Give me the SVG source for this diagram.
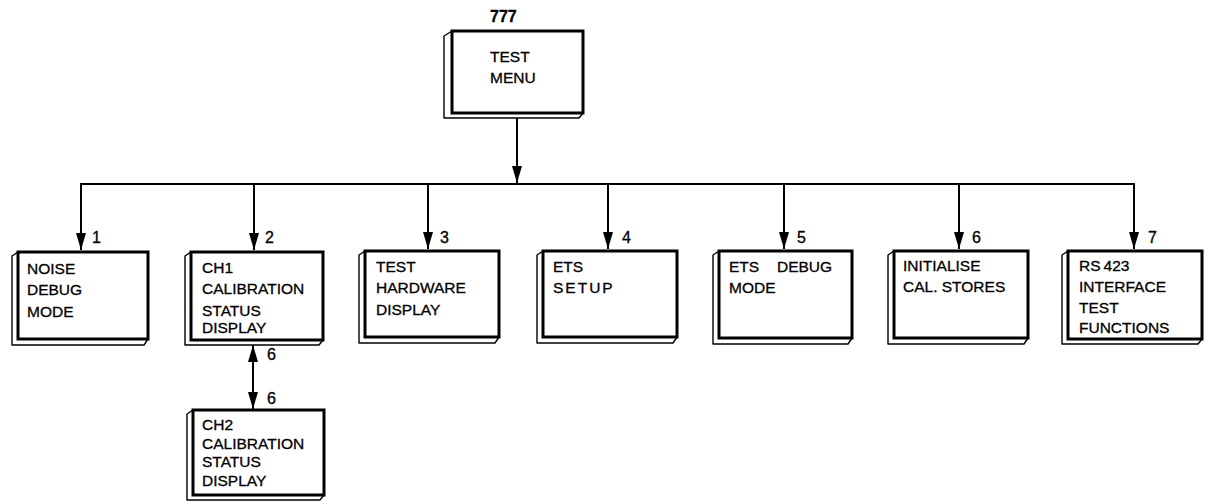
<svg xmlns="http://www.w3.org/2000/svg" width="1205" height="501" viewBox="0 0 1205 501">
<style>
.face{fill:#fff;stroke:#000;stroke-width:3}
.bev{fill:#fff;stroke:#000;stroke-width:1.4;stroke-linejoin:round}
.t{font-family:"Liberation Sans",Arial,sans-serif;font-size:15.5px;fill:#000;stroke:#000;stroke-width:0.3}
.n{font-family:"Liberation Sans",Arial,sans-serif;font-size:16px;fill:#000;stroke:#000;stroke-width:0.3}
.c{stroke:#000;stroke-width:2;fill:none}
</style>
<defs>
<marker id="ah" markerUnits="userSpaceOnUse" markerWidth="18" markerHeight="11" refX="17" refY="5" orient="auto-start-reverse">
<path d="M0,0 L17,5 L0,10 z" fill="#000"/>
</marker>
</defs>
<rect width="1205" height="501" fill="#fff"/>

<g id="connectors">
<line class="c" x1="517" y1="118" x2="517" y2="183" marker-end="url(#ah)"/>
<line class="c" x1="80" y1="184" x2="1135" y2="184"/>
<line class="c" x1="81" y1="184" x2="81" y2="250" marker-end="url(#ah)"/>
<line class="c" x1="254" y1="184" x2="254" y2="250" marker-end="url(#ah)"/>
<line class="c" x1="428" y1="184" x2="428" y2="249" marker-end="url(#ah)"/>
<line class="c" x1="608" y1="184" x2="608" y2="249" marker-end="url(#ah)"/>
<line class="c" x1="784" y1="184" x2="784" y2="249" marker-end="url(#ah)"/>
<line class="c" x1="959" y1="184" x2="959" y2="249" marker-end="url(#ah)"/>
<line class="c" x1="1134" y1="184" x2="1134" y2="249" marker-end="url(#ah)"/>
<line class="c" x1="253" y1="345" x2="253" y2="409" marker-start="url(#ah)" marker-end="url(#ah)"/>
<text class="n" x="92" y="243">1</text>
<text class="n" x="265" y="243">2</text>
<text class="n" x="440" y="243">3</text>
<text class="n" x="622" y="243">4</text>
<text class="n" x="797" y="243">5</text>
<text class="n" x="972" y="243">6</text>
<text class="n" x="1148" y="243">7</text>
<text class="n" x="267" y="360">6</text>
<text class="n" x="267" y="404">6</text>
</g>

<g id="menu">
<text class="n" x="490" y="22" font-weight="bold">777</text>
<path class="bev" d="M452,31 l-8,5 V118 H579 l4,-5"/>
<rect class="face" x="452" y="31" width="131" height="82"/>
<text class="t" x="490" y="62">TEST</text>
<text class="t" x="490" y="83">MENU</text>
</g>

<g id="noise">
<path class="bev" d="M18,252 l-6,4 V345 H144 l4,-6"/>
<rect class="face" x="18" y="252" width="130" height="87"/>
<text class="t" x="27" y="274">NOISE</text>
<text class="t" x="27" y="295">DEBUG</text>
<text class="t" x="27" y="317">MODE</text>
</g>

<g id="ch1">
<path class="bev" d="M191,252 l-6,4 V345 H319 l4,-5"/>
<rect class="face" x="191" y="252" width="132" height="88"/>
<text class="t" x="202" y="273">CH1</text>
<text class="t" x="202" y="294">CALIBRATION</text>
<text class="t" x="202" y="316">STATUS</text>
<text class="t" x="202" y="333">DISPLAY</text>
</g>

<g id="hardware">
<path class="bev" d="M365,251 l-6,4 V343 H495 l4,-6"/>
<rect class="face" x="365" y="251" width="134" height="86"/>
<text class="t" x="376" y="272">TEST</text>
<text class="t" x="376" y="293">HARDWARE</text>
<text class="t" x="376" y="315">DISPLAY</text>
</g>

<g id="ets-setup">
<path class="bev" d="M543,251 l-6,4 V343 H673 l4,-6"/>
<rect class="face" x="543" y="251" width="134" height="86"/>
<text class="t" x="553" y="272">ETS</text>
<text class="t" x="553" y="293" letter-spacing="2">SETUP</text>
</g>

<g id="ets-debug">
<path class="bev" d="M719,251 l-6,4 V344 H848 l4,-6"/>
<rect class="face" x="719" y="251" width="133" height="87"/>
<text class="t" x="729" y="272">ETS<tspan x="777">DEBUG</tspan></text>
<text class="t" x="729" y="293">MODE</text>
</g>

<g id="initialise">
<path class="bev" d="M894,251 l-6,4 V344 H1024 l4,-6"/>
<rect class="face" x="894" y="251" width="134" height="87"/>
<text class="t" x="903" y="271">INITIALISE</text>
<text class="t" x="903" y="292">CAL. STORES</text>
</g>

<g id="rs423">
<path class="bev" d="M1068,251 l-6,4 V344 H1198 l4,-5"/>
<rect class="face" x="1068" y="251" width="134" height="88"/>
<text class="t" x="1079" y="271">RS<tspan dx="3">423</tspan></text>
<text class="t" x="1079" y="292">INTERFACE</text>
<text class="t" x="1079" y="313">TEST</text>
<text class="t" x="1079" y="333">FUNCTIONS</text>
</g>

<g id="ch2">
<path class="bev" d="M193,410 l-6,4 V500 H320 l4,-5"/>
<rect class="face" x="193" y="410" width="131" height="85"/>
<text class="t" x="202" y="430">CH2</text>
<text class="t" x="202" y="449">CALIBRATION</text>
<text class="t" x="202" y="467">STATUS</text>
<text class="t" x="202" y="486">DISPLAY</text>
</g>
</svg>
